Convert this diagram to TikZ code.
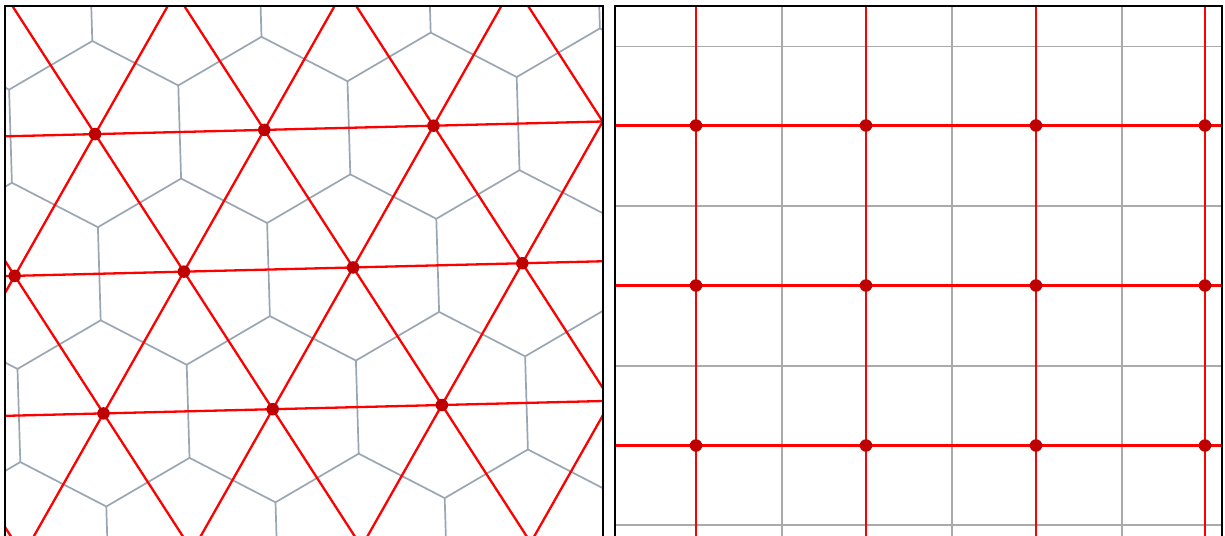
\documentclass[tikz,border=0pt]{standalone}
\usetikzlibrary{calc}
\definecolor{hexgray}{RGB}{155,166,180}
\definecolor{gridgray}{RGB}{170,170,170}
\definecolor{dotred}{RGB}{190,0,0}
\definecolor{linered}{RGB}{255,0,0}
\tikzset{
  hexedge/.style={draw=hexgray, line width=1.7pt, line join=round},
  gridedge/.style={draw=gridgray, line width=1.9pt},
  latline/.style={draw=linered, line width=2.3pt},
  latdot/.style={circle, fill=dotred, inner sep=0pt, minimum size=12.5pt},
  panelframe/.style={draw=black, line width=2.2pt}
}
\begin{document}
\begin{tikzpicture}[x=1pt,y=-1pt]
\useasboundingbox (0,0) rectangle (1225,535);
\fill[white] (0,0) rectangle (1225,535);

% ---------- left panel: triangular lattice with hexagonal dual ----------
\foreach \ii in {0,...,12}{
  \foreach \jj in {0,...,6}{
    \pgfmathsetmacro\px{95.1+(\ii-6)*169.2+(\jj-2)*88.8}
    \pgfmathsetmacro\py{134.1-(\ii-6)*4.2+(\jj-2)*137.55}
    \coordinate (p-\ii-\jj) at (\px,\py);
    \coordinate (ca-\ii-\jj) at (\px+86,\py+44.45);
    \coordinate (cb-\ii-\jj) at (\px+172,\py+88.9);
  }}

\begin{scope}
  \clip (6,7) rectangle (602,540);
  \foreach \ii in {1,...,12}{
    \pgfmathtruncatemacro\im{\ii-1}
    \foreach \jj in {1,...,6}{
      \pgfmathtruncatemacro\jm{\jj-1}
      \draw[hexedge] (cb-\ii-\jm) -- (ca-\ii-\jj) -- (cb-\ii-\jj);
      \draw[hexedge] (ca-\ii-\jj) -- (cb-\im-\jj);
    }}
  \foreach \jj in {0,...,6} \draw[latline] (p-0-\jj) -- (p-12-\jj);
  \foreach \ii in {0,...,12} \draw[latline] (p-\ii-0) -- (p-\ii-6);
  \foreach \ii in {6,...,12}{
    \pgfmathtruncatemacro\kk{\ii-6}
    \draw[latline] (p-\ii-0) -- (p-\kk-6);
  }
  \foreach \ii/\jj in {6/2,7/2,8/2,5/3,6/3,7/3,8/3,5/4,6/4,7/4}
    \node[latdot] (d-\ii-\jj) at (p-\ii-\jj) {};
\end{scope}

% ---------- right panel: square lattice with square dual ----------
\foreach \cc/\xx in {1/696,2/866,3/1036,4/1205}{
  \foreach \rw/\yy in {1/125.5,2/285.5,3/445.5}{
    \coordinate (q-\cc-\rw) at (\xx,\yy);
  }
  \coordinate (vt-\cc) at (\xx,0);
  \coordinate (vb-\cc) at (\xx,540);
}
\foreach \rw/\yy in {1/125.5,2/285.5,3/445.5}{
  \coordinate (hl-\rw) at (610,\yy);
  \coordinate (hr-\rw) at (1230,\yy);
}
\foreach \kk/\xx in {1/782,2/952,3/1122}{
  \coordinate (gt-\kk) at (\xx,0);
  \coordinate (gb-\kk) at (\xx,540);
}
\foreach \kk/\yy in {1/46.5,2/206,3/366,4/525}{
  \coordinate (gl-\kk) at (610,\yy);
  \coordinate (gr-\kk) at (1230,\yy);
}

\begin{scope}
  \clip (616,7) rectangle (1221,540);
  \foreach \kk in {1,2,3} \draw[gridedge] (gt-\kk) -- (gb-\kk);
  \foreach \kk in {1,2,3,4} \draw[gridedge] (gl-\kk) -- (gr-\kk);
  \foreach \cc in {1,2,3,4}
    \draw[latline] (vt-\cc) -- (q-\cc-1) -- (q-\cc-2) -- (q-\cc-3) -- (vb-\cc);
  \foreach \rw in {1,2,3}
    \draw[latline] (hl-\rw) -- (q-1-\rw) -- (q-2-\rw) -- (q-3-\rw) -- (q-4-\rw) -- (hr-\rw);
  \foreach \cc in {1,2,3,4}{
    \foreach \rw in {1,2,3}{
      \node[latdot] (e-\cc-\rw) at (q-\cc-\rw) {};
    }}
\end{scope}

% ---------- frames ----------
\coordinate (fl1) at (5,545);
\coordinate (fl2) at (5,6);
\coordinate (fl3) at (603,6);
\coordinate (fl4) at (603,545);
\draw[panelframe] (fl1) -- (fl2) -- (fl3) -- (fl4);
\coordinate (fr1) at (615,545);
\coordinate (fr2) at (615,6);
\coordinate (fr3) at (1222,6);
\coordinate (fr4) at (1222,545);
\draw[panelframe] (fr1) -- (fr2) -- (fr3) -- (fr4);
\end{tikzpicture}
\end{document}
